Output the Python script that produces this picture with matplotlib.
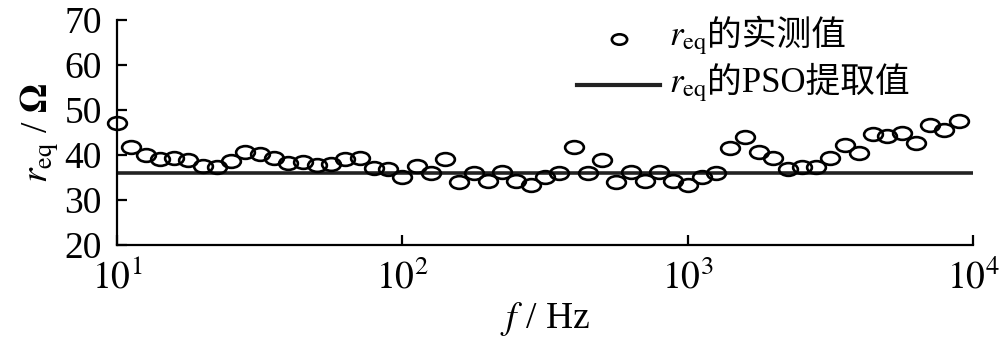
import matplotlib.pyplot as plt
import numpy as np
from matplotlib.path import Path
from matplotlib.lines import Line2D
from matplotlib.offsetbox import TextArea, HPacker, VPacker, DrawingArea, AnchoredOffsetbox

plt.rcParams['font.family'] = ['Liberation Serif', 'Noto Sans CJK SC']
plt.rcParams['mathtext.fontset'] = 'stix'

# measured frequency points (Hz), 20 per decade
freq = [10.0, 11.2, 12.6, 14.1, 15.8, 17.8, 20.0, 22.4, 25.1, 28.2,
        31.6, 35.5, 39.8, 44.7, 50.1, 56.2, 63.1, 70.8, 79.4, 89.1,
        100.0, 112.2, 125.9, 141.3, 158.5, 177.8, 199.5, 223.9, 251.2, 281.8,
        316.2, 354.8, 398.1, 446.7, 501.2, 562.3, 631.0, 707.9, 794.3, 891.3,
        1000.0, 1122.0, 1258.9, 1412.5, 1584.9, 1778.3, 1995.3, 2238.7, 2511.9, 2818.4,
        3162.3, 3548.1, 3981.1, 4466.8, 5011.9, 5623.4, 6309.6, 7079.5, 7943.3, 8912.5]

# measured r_eq (Ohm)
r_meas = [47.1, 41.8, 40.0, 39.1, 39.3, 38.9, 37.6, 37.3, 38.7, 40.7,
          40.2, 39.3, 38.2, 38.4, 37.8, 38.0, 39.1, 39.3, 37.1, 36.9,
          35.1, 37.6, 36.0, 39.1, 34.0, 36.0, 34.2, 36.2, 34.2, 33.3,
          35.1, 36.0, 41.8, 36.0, 38.9, 34.0, 36.2, 34.2, 36.2, 34.2,
          33.3, 35.1, 36.0, 41.6, 44.0, 40.7, 39.3, 36.9, 37.3, 37.3,
          39.3, 42.2, 40.4, 44.7, 44.2, 44.9, 42.7, 46.7, 45.6, 47.6]

# PSO extracted value
r_pso = 36.1
f_range = [10, 10000]

leg_cn = ['的实测值', '的PSO提取值']

# the original figure is stretched sideways, so circles look flattened
circ = Path.unit_circle()
ell = Path(circ.vertices * np.array([1.0, 0.68]), circ.codes)

fig = plt.figure(figsize=(10, 3.4), dpi=100)
ax = fig.add_axes([0.117, 0.279, 0.856, 0.662])

ax.plot(f_range, [r_pso, r_pso], color='#222222', lw=2.6, zorder=1)
ax.plot(freq, r_meas, linestyle='', marker=ell, markersize=13.5,
        markerfacecolor='none', markeredgecolor='black', markeredgewidth=1.9,
        clip_on=False, zorder=2)

ax.set_xscale('log')
ax.set_xlim(10, 10000)
ax.set_ylim(20, 70)
ax.set_xticks([10, 100, 1000, 10000])
ax.set_xticklabels([r'$10^1$', r'$10^2$', r'$10^3$', r'$10^4$'])
ax.xaxis.set_minor_locator(plt.NullLocator())
ax.set_yticks([20, 30, 40, 50, 60, 70])

for s in ['top', 'right']:
    ax.spines[s].set_visible(False)
for s in ['left', 'bottom']:
    ax.spines[s].set_linewidth(1.6)

ax.tick_params(axis='both', direction='in', length=7, width=1.6,
               labelsize=27)
ax.tick_params(axis='x', pad=11)
ax.tick_params(axis='y', pad=11)

ax.set_xlabel(r'$f$ / Hz', fontsize=27, labelpad=2)
ax.set_ylabel(r'$r_{\mathrm{eq}}$ / $\mathbf{\Omega}$', fontsize=27, labelpad=2)

# legend built by hand so the mathtext r_eq and the CJK text share a baseline
da1 = DrawingArea(60, 26, 0, 0)
da1.add_artist(Line2D([30], [13], linestyle='', marker=ell, markersize=11,
                      markerfacecolor='none', markeredgecolor='black',
                      markeredgewidth=1.9))
da2 = DrawingArea(60, 26, 0, 0)
da2.add_artist(Line2D([0, 60], [13, 13], color='#222222', lw=3))

rows = []
for da, cn in zip([da1, da2], leg_cn):
    t1 = TextArea(r'$r_{\mathrm{eq}}$', textprops=dict(fontsize=25))
    t2 = TextArea(cn, textprops=dict(fontsize=25,
                                     family=['Liberation Serif', 'Noto Sans CJK SC']))
    lab = HPacker(children=[t1, t2], align='baseline', pad=0, sep=0)
    rows.append(HPacker(children=[da, lab], align='center', pad=0, sep=6))
box = VPacker(children=rows, align='left', pad=0, sep=7)
leg = AnchoredOffsetbox(loc='upper left', child=box, pad=0, borderpad=0,
                        bbox_to_anchor=(0.577, 0.94), bbox_transform=fig.transFigure,
                        frameon=False)
ax.add_artist(leg)

fig.savefig('out.png', dpi=100)
